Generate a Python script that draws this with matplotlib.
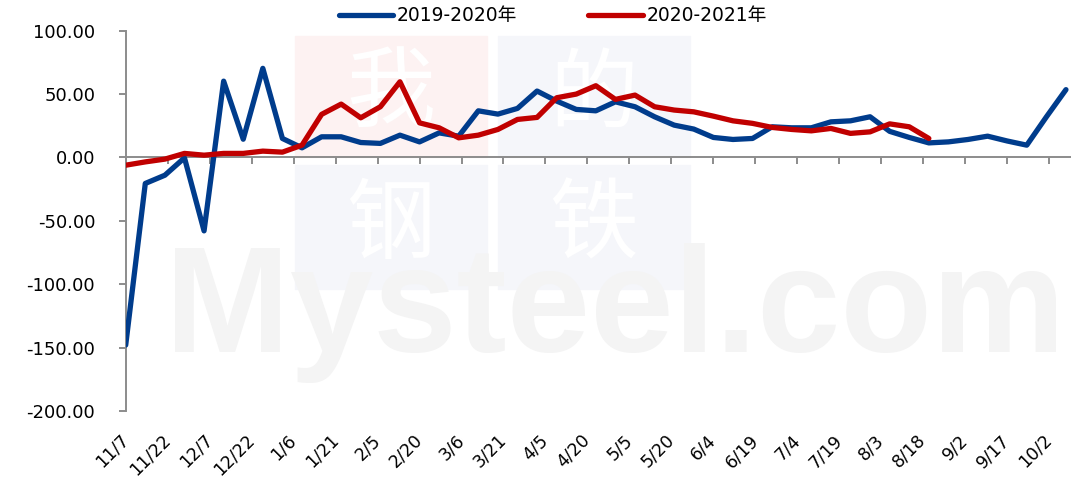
import numpy as np
import pandas as pd
import matplotlib
import matplotlib.pyplot as plt
import matplotlib.dates as mdates
from matplotlib.patches import Rectangle

plt.switch_backend('agg')
plt.rcParams['font.family'] = ['DejaVu Sans', 'Noto Sans CJK SC']

# weekly values, first week is 11/7
blue_2019_2020 = [-148, -20.5, -14, -0.3, -57.9, 60.2, 14.4, 70.3, 15.0, 7.6,
                  16.3, 16.3, 11.8, 11.1, 17.6, 12.3, 19.4, 16.8, 36.8, 34.2,
                  38.7, 52.4, 44.5, 37.9, 36.8, 43.9, 40.0, 32.1, 25.5, 22.4,
                  15.8, 14.2, 15.0, 24.2, 23.4, 23.4, 28.1, 28.9, 32.1, 20.6,
                  15.8, 11.5, 12.3, 14.2, 16.8, 13.0, 9.7, 32.0, 53.5]
red_2020_2021 = [-6.1, -3.5, -1.3, 3.2, 1.8, 3.2, 3.2, 5.0, 4.2, 9.7,
                 34.0, 42.1, 31.3, 40.0, 59.7, 27.3, 23.4, 15.5, 17.6, 22.1,
                 30.0, 31.6, 47.1, 50.0, 56.6, 45.8, 49.2, 40.0, 37.4, 36.0,
                 32.6, 28.9, 26.9, 23.7, 22.1, 21.0, 22.9, 19.0, 20.2, 26.5,
                 24.2, 15.0]
tick_labels = ['11/7', '11/22', '12/7', '12/22', '1/6', '1/21', '2/5', '2/20',
               '3/6', '3/21', '4/5', '4/20', '5/5', '5/20', '6/4', '6/19',
               '7/4', '7/19', '8/3', '8/18', '9/2', '9/17', '10/2']
legend_labels = ['2019-2020年', '2020-2021年']
y_ticks = [-200, -150, -100, -50, 0, 50, 100]

start = pd.Timestamp('2019-11-07')
blue_x = mdates.date2num(pd.date_range(start, periods=len(blue_2019_2020), freq='7D'))
red_x = mdates.date2num(pd.date_range(start, periods=len(red_2020_2021), freq='7D'))
tick_x = mdates.date2num(pd.date_range(start, periods=len(tick_labels), freq='15D'))
x0 = mdates.date2num(start)

W, H = 1071, 479
fig = plt.figure(figsize=(W / 100, H / 100), dpi=100)
ax = fig.add_axes([125.7 / W, 1 - 411 / H, (W - 125.7) / W, (411 - 30.7) / H])
ax.patch.set_visible(False)
ax.set_zorder(2)

# watermark
def fbox(x1, y1, x2, y2, color):
    fig.patches.append(Rectangle((x1 / W, 1 - y2 / H), (x2 - x1) / W, (y2 - y1) / H,
                                 transform=fig.transFigure, color=color, zorder=0))

fbox(295, 36, 487, 157, '#FDF2F2')
fbox(498, 36, 690, 157, '#F5F6FA')
fbox(295, 165, 487, 289, '#F5F6FA')
fbox(498, 165, 690, 289, '#F5F6FA')
for ch, cx, cy in [('我', 391, 96), ('的', 594, 96), ('钢', 391, 227), ('铁', 594, 227)]:
    fig.text(cx / W, 1 - cy / H, ch, color='white', fontsize=64, ha='center',
             va='center', family='Noto Sans CJK SC', zorder=0.5)
fig.text(165 / W, 1 - 352 / H, 'Mysteel.com', color='#F4F4F4', fontsize=108,
         family='Liberation Sans', fontweight='bold', ha='left', va='baseline', zorder=0.5)

ax.plot(blue_x, blue_2019_2020, color='#003C8C', lw=3.8, label=legend_labels[0],
        solid_capstyle='round', solid_joinstyle='round', zorder=3)
ax.plot(red_x, red_2020_2021, color='#C00000', lw=3.8, label=legend_labels[1],
        solid_capstyle='round', solid_joinstyle='round', zorder=3)

ax.set_ylim(-200, 100)
ax.set_xlim(x0, x0 + 337.8)
ax.set_yticks(y_ticks)
ax.set_yticklabels([f'{v:.2f}' for v in y_ticks])

axis_gray = '#8C8C8C'
for s in ['top', 'right']:
    ax.spines[s].set_visible(False)
ax.spines['left'].set_color(axis_gray)
ax.spines['left'].set_linewidth(1.4)
ax.spines['bottom'].set_position(('data', 0))
ax.spines['bottom'].set_color(axis_gray)
ax.spines['bottom'].set_linewidth(1.4)
ax.tick_params(axis='y', direction='out', length=5, width=1.4, color=axis_gray,
               labelsize=13, pad=17)
ax.set_xticks(tick_x)
ax.tick_params(axis='x', direction='out', length=5, width=1.4, color=axis_gray,
               labelbottom=False)

sec = ax.secondary_xaxis('bottom')
sec.set_xticks(tick_x)
sec.set_xticklabels(tick_labels)
sec.spines['bottom'].set_visible(False)
sec.tick_params(axis='x', length=0, pad=19, labelsize=12.5)
for lab in sec.get_xticklabels():
    lab.set_rotation(45)
    lab.set_ha('right')
    lab.set_va('center')
    lab.set_rotation_mode('anchor')

fig.legend(loc='center', bbox_to_anchor=(0.516, 0.967), ncol=2, frameon=False,
           fontsize=13.5, handlelength=2.9, columnspacing=3.8, handletextpad=0.2)

fig.savefig('out.png', dpi=100)
